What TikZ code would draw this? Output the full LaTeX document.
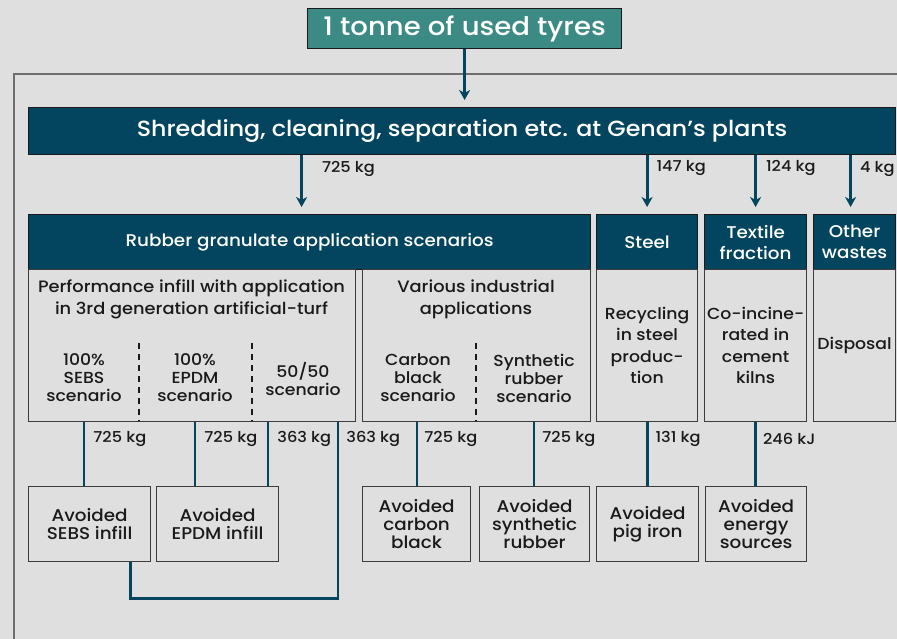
\documentclass[tikz,border=0pt]{standalone}
\usepackage{fontspec}
\setmainfont{Poppins}[UprightFont={* Medium}, FakeStretch=1.08]
\usetikzlibrary{arrows.meta,calc}

\definecolor{navy}{RGB}{3,69,94}
\definecolor{tealbox}{RGB}{59,138,132}
\definecolor{paper}{RGB}{222,223,222}
\definecolor{ink}{RGB}{26,26,26}
\definecolor{frameline}{RGB}{110,110,110}

\tikzset{
  hdr/.style={draw=ink, line width=1.2pt, fill=navy, text=white, inner sep=0pt,
    anchor=north west, align=center, font=\fontsize{17}{21}\selectfont},
  cell/.style={draw=ink!85, line width=1.2pt, fill=paper, text=ink, inner sep=0pt,
    anchor=north west, align=center, font=\fontsize{17}{18}\selectfont},
  sub/.style={text=ink, align=center, inner sep=0pt, font=\fontsize{16}{18}\selectfont},
  flow/.style={draw=navy, line width=2.8pt},
  down/.style={flow, -{Stealth[length=10pt,width=11pt,inset=3pt]}, shorten >=7pt},
  lbl/.style={text=ink, inner sep=0pt, anchor=west, font=\fontsize{15}{16}\selectfont},
  split/.style={draw=ink, line width=1.4pt, dash pattern=on 6pt off 5pt},
}

\begin{document}
\begin{tikzpicture}[x=1pt,y=-1pt]
\fill[paper] (0,0) rectangle (897,639);
\useasboundingbox (0,0) rectangle (897,639);

% frame round the plant
\draw[frameline, line width=1.3pt] (14,639) -- (14,74) -- (897,74);

% top of the chain
\node[hdr, fill=tealbox, minimum width=314, minimum height=40,
  font=\fontsize{25.5}{28}\selectfont] (tyres) at (307,8) {1 tonne of used tyres};
\node[hdr, minimum width=867, minimum height=47,
  font=\fontsize{22}{24}\selectfont] (shred) at (28,107)
  {Shredding, cleaning, separation etc. at Genan’s plants};

% fractions
\node[hdr, minimum width=562, minimum height=55] (rubh) at (28,214) {Rubber granulate application scenarios};
\node[hdr, minimum width=101, minimum height=55] (steelh) at (596,214) {Steel};
\node[hdr, minimum width=102, minimum height=55] (textileh) at (704,214) {Textile\\fraction};
\node[hdr, minimum width=82, minimum height=55] (otherh) at (813,214) {Other\\wastes};

\node[cell, minimum width=327, minimum height=152] (perf) at (28,269) {};
\node[cell, minimum width=228, minimum height=152] (various) at (362,269) {};
\node[cell, minimum width=101, minimum height=152, font=\fontsize{16}{21.5}\selectfont] (steelb) at (596,269) {Recycling\\in steel\\produc-\\tion};
\node[cell, minimum width=102, minimum height=152, font=\fontsize{16}{21.5}\selectfont] (textileb) at (704,269) {Co-incine-\\rated in\\cement\\kilns};
\node[cell, minimum width=82, minimum height=152, font=\fontsize{16}{21.5}\selectfont] (otherb) at (813,269) {Disposal};

% scenarios
\node[sub, font=\fontsize{16.5}{22}\selectfont] (perft) at (191.5,299)
  {Performance infill with application\\in 3rd generation artificial-turf};
\node[sub, font=\fontsize{16.5}{22}\selectfont] (varit) at (476,299) {Various industrial\\applications};
\node[sub] (sebs) at (84,378) {100\%\\SEBS\\scenario};
\node[sub] (epdm) at (195,378) {100\%\\EPDM\\scenario};
\node[sub] (fifty) at (303,379) {50/50\\scenario};
\node[sub] (carbon) at (418,378) {Carbon\\black\\scenario};
\node[sub] (synth) at (534,378) {Synthetic\\rubber\\scenario};

\draw[split] (139,343) -- (139,421);
\draw[split] (252,343) -- (252,421);
\draw[split] (476,343) -- (476,421);

% avoided products
\node[cell, minimum width=122, minimum height=75] (avsebs) at (28,486) {Avoided\\SEBS infill};
\node[cell, minimum width=122, minimum height=75] (avepdm) at (156,486) {Avoided\\EPDM infill};
\node[cell, minimum width=108, minimum height=75] (avcarbon) at (362,486) {Avoided\\carbon\\black};
\node[cell, minimum width=110, minimum height=75] (avsynth) at (479,486) {Avoided\\synthetic\\rubber};
\node[cell, minimum width=102, minimum height=75] (avpig) at (596,486) {Avoided\\pig iron};
\node[cell, minimum width=101, minimum height=75] (avenergy) at (705,486) {Avoided\\energy\\sources};

% flows down
\draw[down] (tyres.south) -- (tyres.south |- shred.north);
\draw[down] ([xshift=-8]rubh.north |- shred.south) -- ([xshift=-8]rubh.north)
  node[lbl, at start, xshift=19, yshift=-14] {725 kg};
\draw[down] (steelh.north |- shred.south) -- (steelh.north)
  node[lbl, at start, xshift=8, yshift=-13] {147 kg};
\draw[down] (textileh.north |- shred.south) -- (textileh.north)
  node[lbl, at start, xshift=9, yshift=-13] {124 kg};
\draw[down] ([xshift=-4]otherh.north |- shred.south) -- ([xshift=-4]otherh.north)
  node[lbl, at start, xshift=8, yshift=-14] {4 kg};

\draw[flow] (sebs |- perf.south) -- (sebs |- avsebs.north)
  node[lbl, at start, xshift=8, yshift=-17] {725 kg};
\draw[flow] (epdm |- perf.south) -- (epdm |- avepdm.north)
  node[lbl, at start, xshift=8, yshift=-17] {725 kg};
\draw[flow] ([xshift=-35]fifty.center |- perf.south) -- ([xshift=-35]fifty.center |- avepdm.north)
  node[lbl, at start, xshift=8, yshift=-17] {363 kg};
\draw[flow] ([xshift=35]fifty.center |- perf.south)
  node[lbl, xshift=7, yshift=-17] {363 kg}
  -- ++(0,176) -| ([xshift=41]avsebs.south);
\draw[flow] ([xshift=-1]carbon |- various.south) -- ([xshift=-1]carbon |- avcarbon.north)
  node[lbl, at start, xshift=6, yshift=-17] {725 kg};
\draw[flow] (synth |- various.south) -- (synth |- avsynth.north)
  node[lbl, at start, xshift=7, yshift=-17] {725 kg};
\draw[flow] (steelb.south) -- (steelb.south |- avpig.north)
  node[lbl, at start, xshift=7, yshift=-17] {131 kg};
\draw[flow] (textileb.south) -- (textileb.south |- avenergy.north)
  node[lbl, at start, xshift=6, yshift=-17] {246 kJ};

\end{tikzpicture}
\end{document}
